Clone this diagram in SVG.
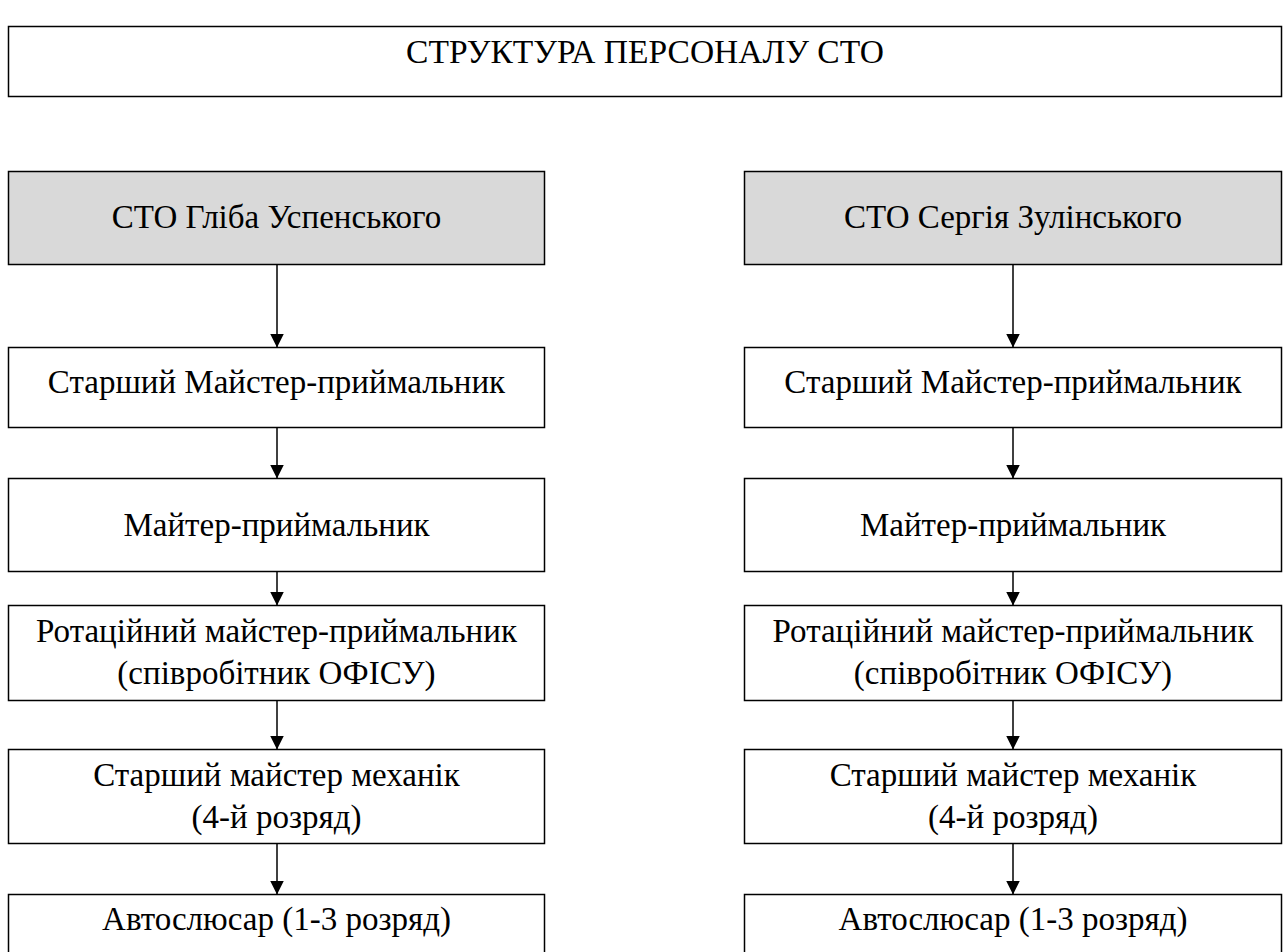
<svg xmlns="http://www.w3.org/2000/svg" width="1288" height="952" viewBox="0 0 1288 952">
<defs>
<style>
.box{fill:#ffffff;stroke:#000000;stroke-width:1.5}
.head{fill:#d9d9d9;stroke:#000000;stroke-width:1.5}
.t{font-family:"Liberation Serif","Times New Roman",serif;font-size:33px;fill:#000000;text-anchor:middle}
.tt{font-size:33.5px}
.c{stroke:#000000;stroke-width:1.5;fill:none}
</style>
<marker id="ah" markerWidth="14" markerHeight="14" viewBox="0 0 14 14" refX="14" refY="7" orient="auto" markerUnits="userSpaceOnUse">
<path d="M0,0 L14,7 L0,14 Z" fill="#000000"/>
</marker>
</defs>
<rect width="1288" height="952" fill="#ffffff"/>
<g id="title">
<rect class="box" x="8.5" y="26.5" width="1273" height="70"/>
<text class="t tt" x="645" y="63">СТРУКТУРА ПЕРСОНАЛУ СТО</text>
</g>
<g id="l-sto">
<rect class="head" x="8.5" y="171.5" width="536" height="93"/>
<text class="t" x="276.5" y="228">СТО Гліба Успенського</text>
</g>
<g id="l-senior">
<rect class="box" x="8.5" y="347.5" width="536" height="80"/>
<text class="t" x="276.5" y="393">Старший Майстер-приймальник</text>
</g>
<g id="l-master">
<rect class="box" x="8.5" y="478.5" width="536" height="93"/>
<text class="t" x="276.5" y="536">Майтер-приймальник</text>
</g>
<g id="l-rot">
<rect class="box" x="8.5" y="605.5" width="536" height="95"/>
<text class="t" x="276.5" y="642">Ротаційний майстер-приймальник</text>
<text class="t" x="276.5" y="684">(співробітник ОФІСУ)</text>
</g>
<g id="l-mech">
<rect class="box" x="8.5" y="749.5" width="536" height="94"/>
<text class="t" x="276.5" y="786">Старший майстер механік</text>
<text class="t" x="276.5" y="828">(4-й розряд)</text>
</g>
<g id="l-auto">
<rect class="box" x="8.5" y="894.5" width="536" height="70"/>
<text class="t" x="276.5" y="930">Автослюсар (1-3 розряд)</text>
</g>
<g id="r-sto">
<rect class="head" x="744.5" y="171.5" width="537" height="93"/>
<text class="t" x="1013" y="228">СТО Сергія Зулінського</text>
</g>
<g id="r-senior">
<rect class="box" x="744.5" y="347.5" width="537" height="80"/>
<text class="t" x="1013" y="393">Старший Майстер-приймальник</text>
</g>
<g id="r-master">
<rect class="box" x="744.5" y="478.5" width="537" height="93"/>
<text class="t" x="1013" y="536">Майтер-приймальник</text>
</g>
<g id="r-rot">
<rect class="box" x="744.5" y="605.5" width="537" height="95"/>
<text class="t" x="1013" y="642">Ротаційний майстер-приймальник</text>
<text class="t" x="1013" y="684">(співробітник ОФІСУ)</text>
</g>
<g id="r-mech">
<rect class="box" x="744.5" y="749.5" width="537" height="94"/>
<text class="t" x="1013" y="786">Старший майстер механік</text>
<text class="t" x="1013" y="828">(4-й розряд)</text>
</g>
<g id="r-auto">
<rect class="box" x="744.5" y="894.5" width="537" height="70"/>
<text class="t" x="1013" y="930">Автослюсар (1-3 розряд)</text>
</g>
<g id="connectors">
<line class="c" x1="277" y1="264.5" x2="277" y2="347.5" marker-end="url(#ah)"/>
<line class="c" x1="277" y1="427.5" x2="277" y2="478.5" marker-end="url(#ah)"/>
<line class="c" x1="277" y1="571.5" x2="277" y2="605.5" marker-end="url(#ah)"/>
<line class="c" x1="277" y1="700.5" x2="277" y2="749.5" marker-end="url(#ah)"/>
<line class="c" x1="277" y1="843.5" x2="277" y2="894.5" marker-end="url(#ah)"/>
<line class="c" x1="1013" y1="264.5" x2="1013" y2="347.5" marker-end="url(#ah)"/>
<line class="c" x1="1013" y1="427.5" x2="1013" y2="478.5" marker-end="url(#ah)"/>
<line class="c" x1="1013" y1="571.5" x2="1013" y2="605.5" marker-end="url(#ah)"/>
<line class="c" x1="1013" y1="700.5" x2="1013" y2="749.5" marker-end="url(#ah)"/>
<line class="c" x1="1013" y1="843.5" x2="1013" y2="894.5" marker-end="url(#ah)"/>
</g>
</svg>
